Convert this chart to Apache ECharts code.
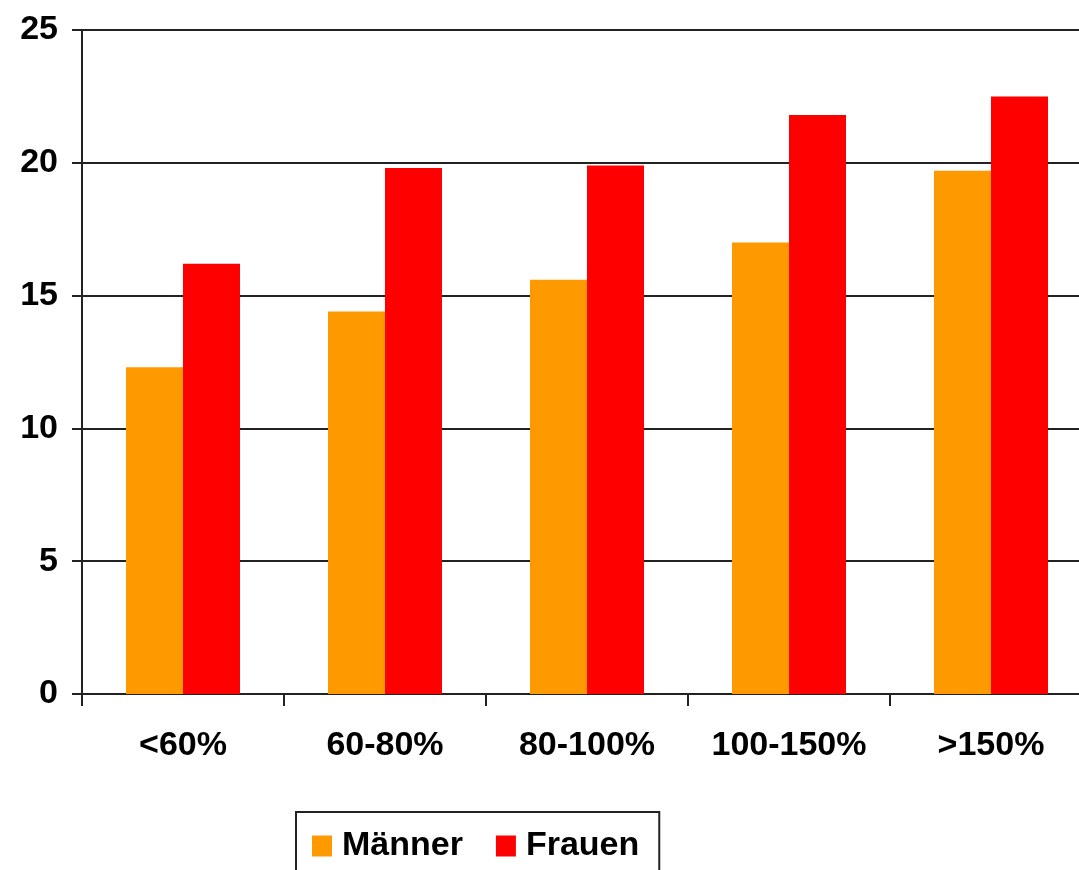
<!DOCTYPE html>
<html>
<head>
<meta charset="utf-8">
<script src="https://cdn.jsdelivr.net/npm/echarts@6/dist/echarts.min.js"></script>
<style>
html,body{margin:0;padding:0;background:#fff;overflow:hidden;}
#chart{width:1092px;height:870px;}
</style>
</head>
<body>
<div id="chart"></div>
<script>
const categories = ['<60%', '60-80%', '80-100%', '100-150%', '>150%'];
const seriesNames = ['Männer', 'Frauen'];
const maenner = [12.3, 14.4, 15.6, 17.0, 19.7];
const frauen = [16.2, 19.8, 19.9, 21.8, 22.5];
const yTicks = [0, 5, 10, 15, 20, 25];

const font = '"Liberation Sans", Arial, sans-serif';
const chart = echarts.init(document.getElementById('chart'), null, {renderer: 'canvas'});
chart.setOption({
  animation: false,
  backgroundColor: '#ffffff',
  grid: {left: 82, top: 30, right: 0, bottom: 176, containLabel: false},
  legend: {
    data: seriesNames,
    left: 296,
    top: 812,
    orient: 'horizontal',
    itemWidth: 20,
    itemHeight: 21,
    itemGap: 33,
    padding: [17, 20, 14, 16],
    borderColor: '#222',
    borderWidth: 2,
    icon: 'rect',
    textStyle: {fontFamily: font, fontWeight: 'bold', fontSize: 34, color: '#000', padding: [0, 0, 0, 5]}
  },
  xAxis: {
    type: 'category',
    data: categories,
    axisLine: {show: true, lineStyle: {color: '#222', width: 2}},
    axisTick: {show: true, length: 12, alignWithLabel: false, lineStyle: {color: '#222', width: 2}},
    axisLabel: {fontFamily: font, fontWeight: 'bold', fontSize: 34, color: '#000', margin: 35, interval: 0}
  },
  yAxis: {
    type: 'value',
    min: yTicks[0],
    max: yTicks[yTicks.length - 1],
    interval: 5,
    axisLine: {show: true, lineStyle: {color: '#222', width: 2}},
    axisTick: {show: true, length: 10, lineStyle: {color: '#222', width: 2}},
    splitLine: {show: true, lineStyle: {color: '#222', width: 2}},
    axisLabel: {fontFamily: font, fontWeight: 'bold', fontSize: 34, color: '#000', margin: 24}
  },
  series: [
    {name: seriesNames[0], type: 'bar', data: maenner, barWidth: 57, barGap: '0%',
     itemStyle: {color: '#FF9900'}},
    {name: seriesNames[1], type: 'bar', data: frauen, barWidth: 57, barGap: '0%',
     itemStyle: {color: '#FF0000'}}
  ]
});
</script>
</body>
</html>
